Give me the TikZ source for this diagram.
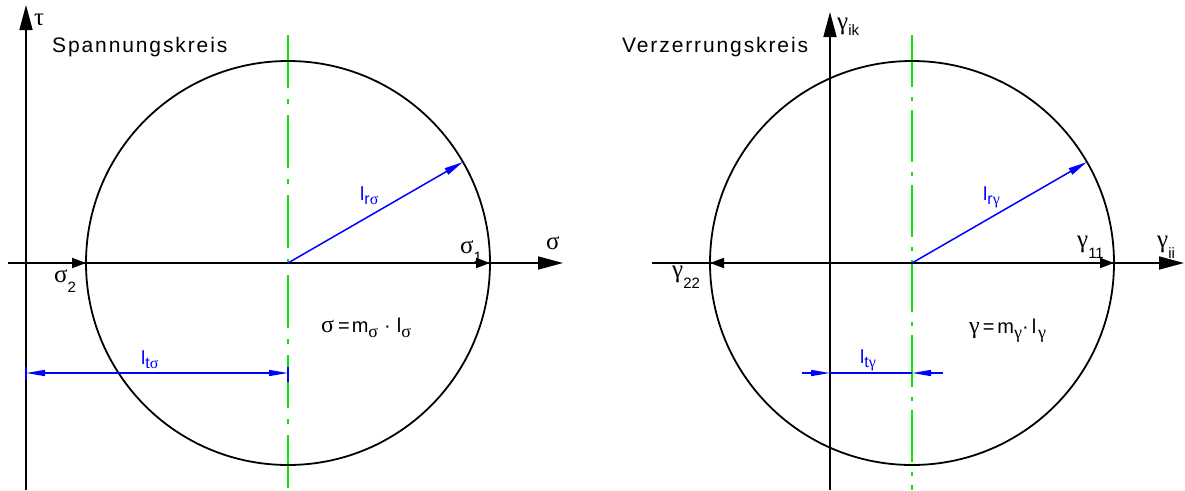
\documentclass[tikz,border=0pt]{standalone}
\usepackage{fontspec}
\setmainfont{Liberation Sans}
\newfontfamily\grk{Liberation Serif}
\newfontfamily\ttlfont[LetterSpace=9]{Liberation Sans}
\usetikzlibrary{arrows.meta}
\definecolor{cgreen}{RGB}{0,235,0}
\definecolor{cblue}{RGB}{0,0,255}
\newcommand\gsub[2][10pt]{\raisebox{-#1}{\rmfamily\fontsize{15}{17}\selectfont #2}}
\newcommand\fsub[1]{\raisebox{-5pt}{\fontsize{18}{20}\selectfont #1}}
\newcommand\bsub[1]{\raisebox{-4pt}{\fontsize{16}{18}\selectfont #1}}
\newcommand\fgr[1]{{\grk\fontsize{24}{26}\selectfont #1}}
\tikzset{
  axisline/.style={line width=1.6pt,-{Triangle[length=25pt,width=13pt]}},
  princ/.style={line width=2pt,-{Triangle[length=14pt,width=10pt]}},
  circ/.style={line width=1.8pt},
  midline/.style={draw=cgreen,line width=2pt},
  radarrow/.style={draw=cblue,line width=1.5pt,-{Triangle[length=19pt,width=7pt]}},
  dimtip/.style={draw=cblue,line width=1.5pt,-{Triangle[length=19pt,width=6pt]}},
  dimboth/.style={draw=cblue,line width=1.5pt,{Triangle[length=19pt,width=6pt]}-{Triangle[length=19pt,width=6pt]}},
  dimline/.style={draw=cblue,line width=1.5pt},
  ttl/.style={font=\ttlfont\fontsize{21}{24}\selectfont,inner sep=0pt,anchor=base west},
  glbl/.style={font=\grk\fontsize{25}{27}\selectfont,inner sep=0pt,anchor=base west},
  flbl/.style={font=\fontsize{20}{24}\selectfont,inner sep=0pt,anchor=base west},
  blbl/.style={text=cblue,font=\fontsize{19}{22}\selectfont,inner sep=0pt,anchor=base west},
}
\begin{document}
\begin{tikzpicture}[x=1pt,y=-1pt]
\useasboundingbox (0,0) rectangle (1185,490);
% ---------- left: Spannungskreis ----------
\coordinate (O1) at (288,263);
\coordinate (TauB) at (26,490);
\coordinate (TauT) at (26,5);
\coordinate (SigL) at (8,263);
\coordinate (SigR) at (563,263);
\coordinate (TauX) at (26,263);
\coordinate (C1L) at (86,263);
\coordinate (C1R) at (490,263);
\coordinate (S1s) at (400,263);
\coordinate (G1T) at (288,35);
\coordinate (G1B) at (288,490);
\coordinate (R1) at ([shift={(-30:202)}]O1);
\coordinate (D1L) at (26,373);
\coordinate (D1R) at (288,373);

\draw[midline,dash pattern=on 53pt off 11pt on 5pt off 11pt] (G1T) -- (G1B);
\draw[circ] (O1) circle[radius=202];
\draw[axisline] (TauB) -- (TauT);
\draw[axisline] (SigL) -- (SigR);
\draw[princ] (TauX) -- (C1L);
\draw[princ] (S1s) -- (C1R);
\draw[radarrow] (O1) -- (R1);
\draw[dimboth] (D1L) -- (D1R);
\draw[dimline] ([yshift=-7pt]D1L) -- ([yshift=6pt]D1L);
\draw[dimline] ([yshift=-9pt]D1R) -- ([yshift=6pt]D1R);

\node[glbl] (tau) at (34,25) {τ};
\node[glbl] (sig) at (546,249) {σ};
\node[glbl] (sig1) at (460,253) {σ\gsub[9pt]{1}};
\node[glbl] (sig2) at (54,282) {σ\gsub{2}};
\node[ttl] (t1) at (52,52) {Spannungskreis};
\node[flbl] (f1) at (321,332) {\fgr{σ}\hspace{4pt}=\hspace{2pt}m\fsub{\grk σ}\hspace{6pt}·\hspace{6pt}l\fsub{\grk σ}};
\node[blbl] (lt1) at (141,364) {l\bsub{t\grk σ}};
\node[blbl] (lr1) at (360,200) {l\bsub{r\grk σ}};

% ---------- right: Verzerrungskreis ----------
\coordinate (O2) at (912,263);
\coordinate (GkB) at (830,490);
\coordinate (GkT) at (830,12);
\coordinate (GiL) at (652,263);
\coordinate (GiR) at (1184,263);
\coordinate (GkX) at (830,263);
\coordinate (C2L) at (710,263);
\coordinate (C2R) at (1114,263);
\coordinate (G11s) at (1023,263);
\coordinate (G2T) at (912,35);
\coordinate (G2B) at (912,490);
\coordinate (R2) at ([shift={(-30:202)}]O2);
\coordinate (D2L) at (802,373);
\coordinate (D2A) at (830,373);
\coordinate (D2B) at (912,373);
\coordinate (D2R) at (943,373);

\draw[midline,dash pattern=on 52pt off 10pt on 4pt off 9pt] (G2T) -- (G2B);
\draw[circ] (O2) circle[radius=202];
\draw[axisline] (GkB) -- (GkT);
\draw[axisline] (GiL) -- (GiR);
\draw[princ] (GkX) -- (C2L);
\draw[princ] (G11s) -- (C2R);
\draw[radarrow] (O2) -- (R2);
\draw[dimline] (D2A) -- (D2B);
\draw[dimtip] (D2L) -- (D2A);
\draw[dimtip] (D2R) -- (D2B);

\node[glbl] (gik) at (837,29) {γ\gsub[6pt]{ik}};
\node[glbl] (gii) at (1157,247) {γ\gsub[11pt]{ii}};
\node[glbl] (g11) at (1077,247) {γ\gsub[11pt]{11}};
\node[glbl] (g22) at (672,277) {γ\gsub[11pt]{22}};
\node[ttl] (t2) at (622,52) {Verzerrungskreis};
\node[flbl] (f2) at (969,333) {\fgr{γ}\hspace{3pt}=\hspace{3pt}m\fsub{\grk γ}·\hspace{3pt}l\hspace{2pt}\fsub{\grk γ}};
\node[blbl] (lt2) at (860,363) {l\bsub{t\grk γ}};
\node[blbl] (lr2) at (983,200) {l\bsub{r\grk γ}};
\end{tikzpicture}
\end{document}
